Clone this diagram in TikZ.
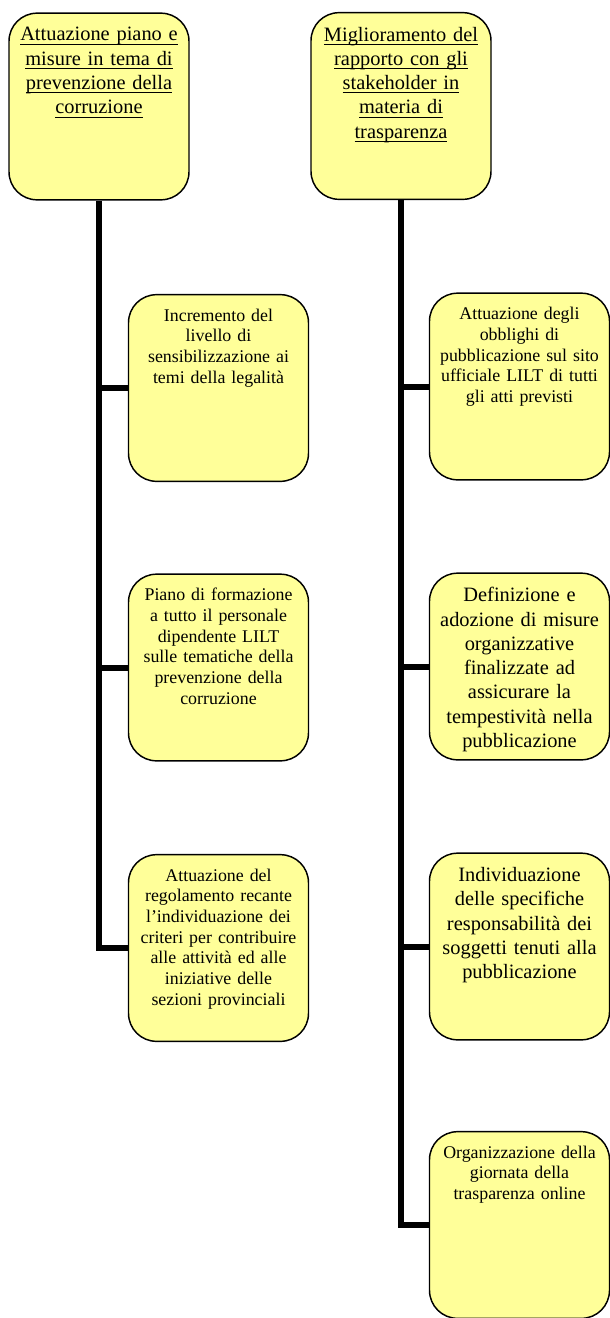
\documentclass[tikz,border=0pt]{standalone}
\usepackage{fontspec}
\setmainfont{Liberation Serif}
\usepackage{tikz}
\usetikzlibrary{positioning}
\definecolor{boxyellow}{HTML}{FFFF99}
\newcommand{\BIG}{\fontsize{15.3pt}{18.2pt}\selectfont}
\newcommand{\SMALL}{\fontsize{13.4pt}{15.5pt}\selectfont}
\newcommand{\ULINE}[1]{\leavevmode\setbox0\hbox{#1}\rlap{\rule[-2.9pt]{\wd0}{0.75pt}}\box0}
\tikzset{basic box/.style={draw,rectangle,rounded corners=21pt,fill=boxyellow,line width=1.1pt}}
\tikzset{goal box/.style={basic box,minimum width=135pt,minimum height=140pt}}
\tikzset{box text/.style={inner sep=0pt,text width=130pt,align=center,font=\SMALL}}
\tikzset{big text/.style={box text,font=\BIG}}
\tikzset{spine/.style={draw,line width=4.5pt}}

\begin{document}
\begin{tikzpicture}
      [
      x=0.75pt,y=-0.75pt,
      ]
      \useasboundingbox (0,0) rectangle (610,1318);

      % boxes
      \foreach \n/\x/\y in
      {
      T1/99/106.5,
      T2/401/106,
      L1/218.5/388,
      L2/218.5/667.5,
      L3/218.5/948,
      R1/519.5/386.5,
      R2/519.5/666.5,
      R3/519.5/946.5,
      R4/519.5/1225
      }
      {
      \node [goal box] (\n) at (\x,\y) {};
      }

      % texts
      \node [big text,below=11pt of T1.north] (T1t) {\ULINE{Attuazione piano e}\\
      \ULINE{misure in tema di}\\ \ULINE{prevenzione\ della}\\ \ULINE{corruzione}};
      \node [big text,below=11pt of T2.north] (T2t) {\ULINE{Miglioramento del}\\
      \ULINE{rapporto con gli}\\ \ULINE{stakeholder in}\\ \ULINE{materia di}\\
      \ULINE{trasparenza}};

      \node [box text,below=11pt of L1.north] (L1t) {Incremento del\\ livello di\\
      sensibilizzazione ai\\ temi della legalità};
      \node [box text,below=11pt of L2.north] (L2t) {Piano di formazione\\
      a tutto il personale\\ dipendente LILT\\ sulle tematiche della\\ prevenzione della\\
      corruzione};
      \node [box text,below=11pt of L3.north] (L3t) {Attuazione del\\
      regolamento recante\\ l’individuazione dei\\ criteri per contribuire\\
      alle attività ed alle\\ iniziative delle\\ sezioni provinciali};

      \node [box text,below=11pt of R1.north] (R1t) {Attuazione degli\\ obblighi di\\
      pubblicazione sul sito\\ ufficiale LILT di tutti\\ gli atti previsti};
      \node [big text,below=11pt of R2.north] (R2t) {Definizione e\\
      adozione di misure\\ organizzative\\ finalizzate ad\\ assicurare la\\
      tempestività nella\\ pubblicazione};
      \node [big text,below=11pt of R3.north] (R3t) {Individuazione\\
      delle specifiche\\ responsabilità dei\\ soggetti\ tenuti alla\\ pubblicazione};
      \node [box text,below=11pt of R4.north] (R4t) {Organizzazione della\\
      giornata della\\ trasparenza online};

      % edges
      \path [spine] (T1.south) |- (L3.west);
      \path [spine] (T1.south |- L1.west) -- (L1.west);
      \path [spine] (T1.south |- L2.west) -- (L2.west);

      \path [spine] (T2.south) |- (R4.west);
      \path [spine] (T2.south |- R1.west) -- (R1.west);
      \path [spine] (T2.south |- R2.west) -- (R2.west);
      \path [spine] (T2.south |- R3.west) -- (R3.west);

    \end{tikzpicture}
\end{document}
